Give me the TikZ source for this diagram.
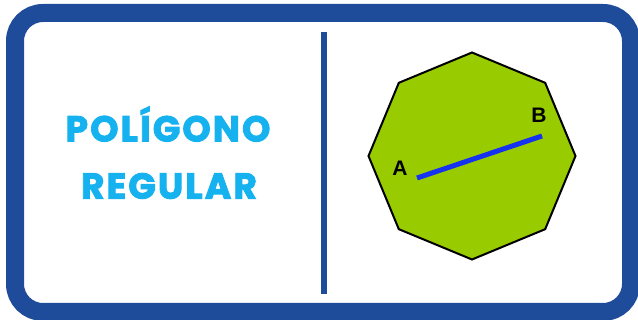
\documentclass[tikz,border=0pt]{standalone}
\usepackage{fontspec}
\setmainfont{Liberation Sans}
\newfontfamily\titlefont{Poppins}[UprightFont=* Bold, FakeBold=2.5, LetterSpace=6]
\definecolor{frameblue}{RGB}{30,76,154}
\definecolor{octgreen}{RGB}{153,204,0}
\definecolor{segblue}{RGB}{20,50,240}
\definecolor{titlecyan}{RGB}{22,178,240}
\usetikzlibrary{
  positioning,
  shapes.geometric
}

\begin{document}
\begin{tikzpicture}[x=1pt, y=-1pt,
  frame/.style={draw=frameblue, line width=18pt, rounded corners=28pt},
  divider/.style={draw=frameblue, line width=6pt},
  title/.style={font=\titlefont\fontsize{36}{36}\selectfont,
    text=titlecyan, inner sep=0pt},
  octo/.style={regular polygon, regular polygon sides=8,
    shape border rotate=22.5, minimum size=207pt, inner sep=0pt,
    draw=black, line width=2pt, fill=octgreen},
  seg/.style={draw=segblue, line width=5pt},
  lbl/.style={font=\bfseries\fontsize{21}{21}\selectfont, inner sep=0pt},
]
\useasboundingbox (0,0) rectangle (638,320);

% frame and divider
\draw[frame] (15,13) rectangle (631,312);
\coordinate (divtop) at (323.5,32);
\coordinate (divbot) at (323.5,294);
\draw[divider] (divtop) -- (divbot);

% title
\node[title] (title1) at (168,124) {POLÍGONO};
\node[title] (title2) at (169,186) {REGULAR};

% octagon with segment AB
\node[octo] (oct) at (472,156) {};
\coordinate (A) at (417,178);
\coordinate (B) at (542,136);
\draw[seg] (A) -- (B);
\node[lbl] (labA) at (400,168) {A};
\node[lbl] (labB) at (539,115) {B};

\end{tikzpicture}
\end{document}
